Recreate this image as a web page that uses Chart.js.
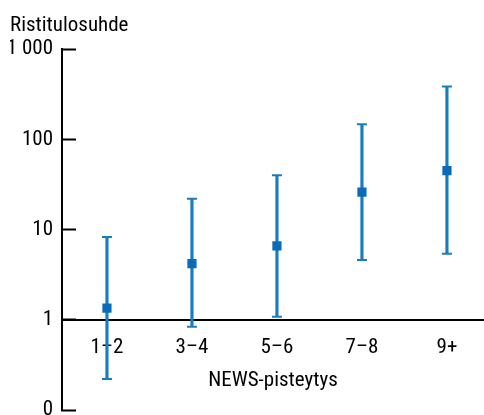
<!DOCTYPE html>
<html>
<head>
<meta charset="utf-8">
<script src="https://cdn.jsdelivr.net/npm/chart.js@4"></script>
<style>
  html, body { margin: 0; padding: 0; background: #fff; overflow: hidden; }
  #wrap { width: 484px; height: 415px; }
</style>
</head>
<body>
<div id="wrap"><canvas id="chart"></canvas></div>
<script>
// NEWS-pisteytys -> ristitulosuhde (log-asteikko)
const labels = ['1–2', '3–4', '5–6', '7–8', '9+'];
const ratio = [1.35, 4.2, 6.6, 26, 45];
const lower = [0.22, 0.84, 1.08, 4.6, 5.4];
const upper = [8.3, 22, 40, 147, 385];
const yTicks = [0.1, 1, 10, 100, 1000];
const yTickLabels = ['0', '1', '10', '100', '1 000'];

const FONT = '"Roboto Condensed", "DejaVu Sans Condensed", sans-serif';
const lineBlue = '#1a7cc0';
const dotBlue = '#0a6bb8';

const pts = arr => arr.map((v, i) => ({ x: i, y: v }));

new Chart(document.getElementById('chart'), {
    data: {
        datasets: [
            {
                type: 'bar',
                data: labels.map((l, i) => ({ x: i, y: [lower[i], upper[i]] })),
                backgroundColor: lineBlue,
                barThickness: 2.5,
                order: 3
            },
            {
                type: 'line',
                data: pts(upper),
                showLine: false,
                pointStyle: 'line',
                pointRadius: 5,
                borderColor: lineBlue,
                borderWidth: 2,
                order: 2
            },
            {
                type: 'line',
                data: pts(lower),
                showLine: false,
                pointStyle: 'line',
                pointRadius: 5,
                borderColor: lineBlue,
                borderWidth: 2,
                order: 2
            },
            {
                type: 'line',
                data: pts(ratio),
                showLine: false,
                pointStyle: 'rect',
                pointRadius: 6.5,
                borderWidth: 0,
                backgroundColor: dotBlue,
                order: 1
            }
        ]
    },
    options: {
        responsive: true,
        maintainAspectRatio: false,
        animation: false,
        layout: { autoPadding: false, padding: { left: 10, right: 0, top: 13, bottom: 5 } },
        plugins: {
            legend: { display: false },
            tooltip: { enabled: false },
            title: {
                display: true,
                text: 'Ristitulosuhde',
                align: 'start',
                color: '#000',
                font: { family: FONT, size: 21, weight: 'normal', lineHeight: 1.2 },
                padding: { top: 0, bottom: 11 }
            }
        },
        scales: {
            x: {
                type: 'linear',
                min: -0.529,
                max: 4.436,
                offset: false,
                position: { y: 1 },
                grid: { display: false, offset: false },
                border: { display: true, color: '#000', width: 2 },
                afterBuildTicks: s => { s.ticks = labels.map((l, i) => ({ value: i })); },
                afterFit: s => { s.paddingLeft = 0; s.paddingRight = 0; },
                ticks: {
                    color: '#000',
                    padding: 7,
                    font: { family: FONT, size: 21 },
                    callback: v => labels[v]
                },
                title: {
                    display: true,
                    text: 'NEWS-pisteytys',
                    color: '#000',
                    font: { family: FONT, size: 21 },
                    padding: { top: 1, bottom: 0 }
                }
            },
            y: {
                type: 'logarithmic',
                min: 0.1,
                max: 1000,
                afterBuildTicks: s => { s.ticks = yTicks.map(v => ({ value: v })); },
                afterFit: s => { s.width = 52; s.paddingTop = 0; s.paddingBottom = 0; },
                grid: {
                    drawOnChartArea: false,
                    tickLength: -14,
                    tickWidth: 2,
                    tickColor: '#000'
                },
                border: { display: true, color: '#000', width: 2 },
                ticks: {
                    color: '#000',
                    padding: 23,
                    font: { family: FONT, size: 21, lineHeight: 0.4 },
                    callback: v => yTickLabels[yTicks.indexOf(v)]
                }
            }
        }
    }
});
</script>
</body>
</html>
